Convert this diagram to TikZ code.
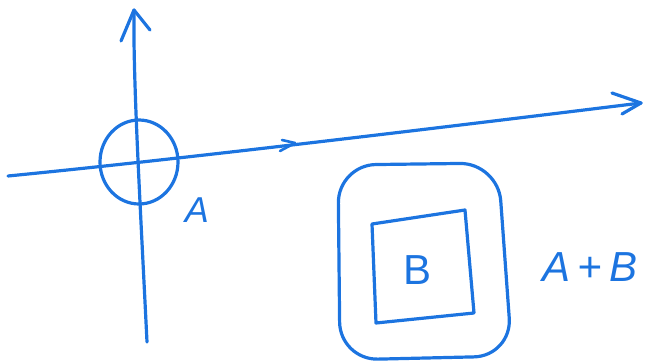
\documentclass[tikz,border=0pt]{standalone}
\usepackage{fontspec}
\setmainfont{Liberation Sans}
\usetikzlibrary{calc}
\definecolor{pen}{RGB}{28,116,224}
\tikzset{
  ink/.style={draw=pen, line width=3.2pt, line cap=round, line join=round},
  lbl/.style={text=pen, font=\fontsize{36}{36}\selectfont\itshape, inner sep=0pt},
}
\begin{document}
\begin{tikzpicture}[x=1pt,y=-1pt]
\useasboundingbox (0,0) rectangle (646,362);
% vertical axis
\coordinate (vb) at (147,342);
\coordinate (vt) at (134,10);
\draw[ink] (vb) .. controls (140,200) and (133,80) .. (vt);
\draw[ink] (vt) -- (121,41);
\draw[ink] (vt) -- (150,30);
% horizontal axis
\coordinate (hl) at (8,176);
\coordinate (hr) at (641,103);
\draw[ink] (hl) .. controls (120,165) and (300,145) .. (hr);
\draw[ink] (hr) -- (612,93);
\draw[ink] (hr) -- (622,114);
% small chevron on axis
\coordinate (ch) at (295,143);
\draw[ink, line width=2.6pt] (282,140) -- (ch) -- (280,151);
% circle A
\draw[ink] (139,162) ellipse [x radius=39, y radius=42];
\node[lbl] (A) at (197,210) {A};
% outer rounded square
\draw[ink, rounded corners=38pt] (338,165) -- (498,163) -- (512,356) -- (340,360) -- cycle;
% inner square
\draw[ink] (372,224) -- (465,210) -- (474,313) -- (376,323) -- cycle;
\node[lbl, font=\fontsize{42}{42}\selectfont] (B) at (418,270) {B};
\node[lbl, font=\fontsize{42}{42}\selectfont\itshape] (AB) at (590,267) {A\,+\,B};
\end{tikzpicture}
\end{document}
